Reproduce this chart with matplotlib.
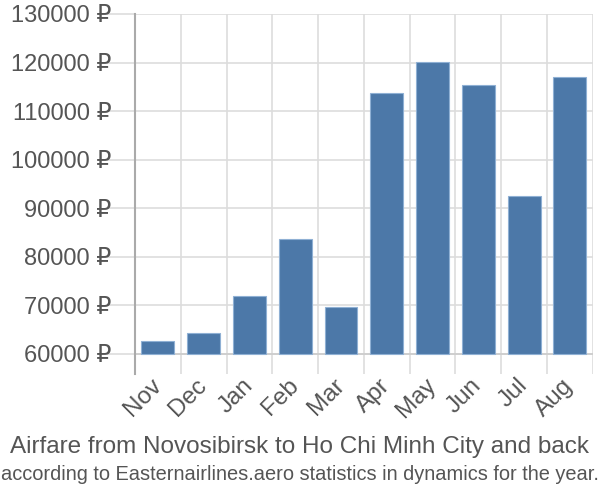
import numpy as np
import matplotlib.pyplot as plt
from matplotlib.transforms import ScaledTranslation

months = ["Nov", "Dec", "Jan", "Feb", "Mar", "Apr", "May", "Jun", "Jul", "Aug"]
prices = [62600, 64400, 72000, 83700, 69600, 113800, 120200, 115300, 92500, 117100]
yticks = [60000, 70000, 80000, 90000, 100000, 110000, 120000, 130000]
title1 = "Airfare from Novosibirsk to Ho Chi Minh City and back"
title2 = "according to Easternairlines.aero statistics in dynamics for the year."

fonts = ['Liberation Sans', 'DejaVu Sans']
text_color = '#555555'
grid_color = '#dddddd'

fig = plt.figure(figsize=(6, 5), dpi=100)
ax = fig.add_axes([0.225, 0.252, 0.763, 0.72])

base = 60000
x = np.arange(len(months))
ax.bar(x, [p - base for p in prices], bottom=base, width=0.72,
       color='#4c78a8', edgecolor='#8fb0d4', linewidth=0.8, zorder=3)

ax.set_xlim(-0.5, len(months) - 0.5)
ax.set_ylim(55880, 130000)

ax.set_yticks(yticks)
ax.set_yticklabels([f"{v} ₽" for v in yticks], family=fonts, fontsize=17,
                   color=text_color)
ax.set_xticks(x)
ax.set_xticklabels(months, rotation=45, ha='right', va='center',
                   rotation_mode='anchor', family=fonts, fontsize=17.5,
                   color=text_color)
offset = ScaledTranslation(7 / 100, 0, fig.dpi_scale_trans)
for lbl in ax.get_xticklabels():
    lbl.set_transform(lbl.get_transform() + offset)

# vertical grid at category boundaries
ax.set_xticks(np.arange(len(months) + 1) - 0.5, minor=True)
ax.grid(True, which='minor', axis='x', color=grid_color, linewidth=1.2, zorder=0)
ax.grid(True, which='major', axis='y', color=grid_color, linewidth=1.2, zorder=0)
ax.axhline(base, color='#cccccc', linewidth=1.2, zorder=2)

ax.tick_params(axis='y', length=20, color=grid_color, width=1.2, pad=-3)
ax.tick_params(axis='x', which='major', length=0, pad=6)
ax.tick_params(axis='x', which='minor', length=0)

for s in ['top', 'right', 'bottom']:
    ax.spines[s].set_visible(False)
ax.spines['left'].set_color('#aaaaaa')
ax.spines['left'].set_linewidth(1.5)

fig.text(0.5, 0.106, title1, ha='center', va='center', fontsize=17.5,
         family=fonts, color=text_color)
fig.text(0.5, 0.05, title2, ha='center', va='center', fontsize=14.4,
         family=fonts, color=text_color)

fig.savefig("out.png", dpi=100)
